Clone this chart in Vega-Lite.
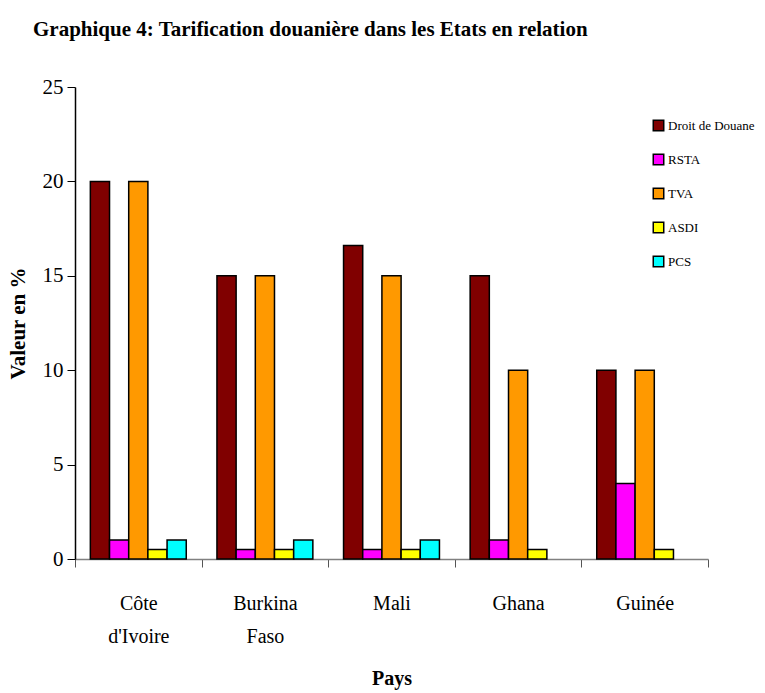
{
  "$schema": "https://vega.github.io/schema/vega-lite/v6.json",
  "autosize": {"type": "none"},
  "width": 633,
  "height": 472,
  "padding": {"left": 75, "top": 87, "right": 57, "bottom": 134},
  "background": "white",
  "title": {
    "text": "Graphique 4: Tarification douanière dans les Etats en relation",
    "anchor": "start",
    "frame": "group",
    "dx": -42,
    "offset": 36,
    "font": "Liberation Serif",
    "fontSize": 21,
    "fontWeight": "bold",
    "color": "black"
  },
  "config": {
    "view": {"stroke": null},
    "font": "Liberation Serif"
  },
  "data": {
    "values": [
      {"pays": "Côte d'Ivoire", "taxe": "Droit de Douane", "valeur": 20},
      {"pays": "Côte d'Ivoire", "taxe": "RSTA", "valeur": 1},
      {"pays": "Côte d'Ivoire", "taxe": "TVA", "valeur": 20},
      {"pays": "Côte d'Ivoire", "taxe": "ASDI", "valeur": 0.5},
      {"pays": "Côte d'Ivoire", "taxe": "PCS", "valeur": 1},
      {"pays": "Burkina Faso", "taxe": "Droit de Douane", "valeur": 15},
      {"pays": "Burkina Faso", "taxe": "RSTA", "valeur": 0.5},
      {"pays": "Burkina Faso", "taxe": "TVA", "valeur": 15},
      {"pays": "Burkina Faso", "taxe": "ASDI", "valeur": 0.5},
      {"pays": "Burkina Faso", "taxe": "PCS", "valeur": 1},
      {"pays": "Mali", "taxe": "Droit de Douane", "valeur": 16.6},
      {"pays": "Mali", "taxe": "RSTA", "valeur": 0.5},
      {"pays": "Mali", "taxe": "TVA", "valeur": 15},
      {"pays": "Mali", "taxe": "ASDI", "valeur": 0.5},
      {"pays": "Mali", "taxe": "PCS", "valeur": 1},
      {"pays": "Ghana", "taxe": "Droit de Douane", "valeur": 15},
      {"pays": "Ghana", "taxe": "RSTA", "valeur": 1},
      {"pays": "Ghana", "taxe": "TVA", "valeur": 10},
      {"pays": "Ghana", "taxe": "ASDI", "valeur": 0.5},
      {"pays": "Guinée", "taxe": "Droit de Douane", "valeur": 10},
      {"pays": "Guinée", "taxe": "RSTA", "valeur": 4},
      {"pays": "Guinée", "taxe": "TVA", "valeur": 10},
      {"pays": "Guinée", "taxe": "ASDI", "valeur": 0.5}
    ]
  },
  "mark": {"type": "bar", "stroke": "black", "strokeWidth": 1.5},
  "encoding": {
    "x": {
      "field": "pays",
      "type": "nominal",
      "sort": ["Côte d'Ivoire", "Burkina Faso", "Mali", "Ghana", "Guinée"],
      "scale": {"paddingInner": 0, "paddingOuter": 0},
      "axis": {
        "title": "Pays",
        "titleFont": "Liberation Serif",
        "titleFontSize": 20,
        "titleFontWeight": "bold",
        "titleColor": "black",
        "titlePadding": 22,
        "labelAngle": 0,
        "labelExpr": "split(datum.label, ' ')",
        "labelFont": "Liberation Serif",
        "labelFontSize": 20,
        "labelColor": "black",
        "labelLineHeight": 33,
        "labelPadding": 26,
        "tickBand": "extent",
        "tickSize": 8,
        "tickColor": "#555555",
        "domainColor": "#808080",
        "domainWidth": 1.5
      }
    },
    "xOffset": {
      "field": "taxe",
      "type": "nominal",
      "scale": {"domain": ["Droit de Douane", "RSTA", "TVA", "ASDI", "PCS"], "paddingInner": 0, "paddingOuter": 0.8}
    },
    "y": {
      "field": "valeur",
      "type": "quantitative",
      "scale": {"domain": [0, 25], "nice": false},
      "axis": {
        "title": "Valeur en %",
        "titleFont": "Liberation Serif",
        "titleFontSize": 21,
        "titleFontWeight": "bold",
        "titleColor": "black",
        "titlePadding": 14,
        "values": [0, 5, 10, 15, 20, 25],
        "grid": false,
        "labelFont": "Liberation Serif",
        "labelFontSize": 21,
        "labelColor": "black",
        "labelPadding": 4,
        "tickSize": 8,
        "tickColor": "black",
        "domainColor": "black",
        "domainWidth": 1.5
      }
    },
    "color": {
      "field": "taxe",
      "type": "nominal",
      "scale": {
        "domain": ["Droit de Douane", "RSTA", "TVA", "ASDI", "PCS"],
        "range": ["#800000", "#FF00FF", "#FF9900", "#FFFF00", "#00FFFF"]
      },
      "legend": {
        "title": null,
        "orient": "none",
        "legendX": 577,
        "legendY": 32,
        "symbolType": "square",
        "symbolSize": 110,
        "symbolStrokeColor": "black",
        "symbolStrokeWidth": 1.5,
        "symbolOpacity": 1,
        "labelFont": "Liberation Serif",
        "labelFontSize": 13,
        "labelColor": "black",
        "labelOffset": 3,
        "rowPadding": 17
      }
    }
  }
}
